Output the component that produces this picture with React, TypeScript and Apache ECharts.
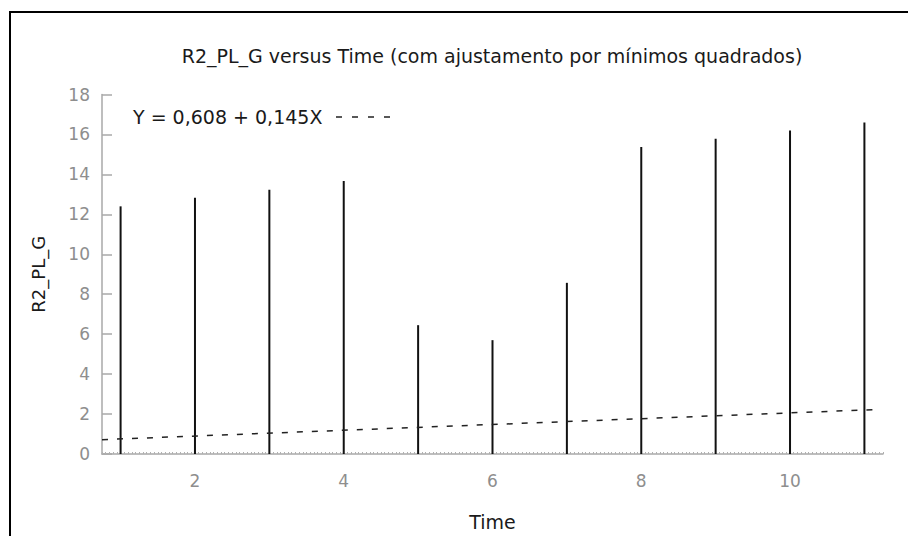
import React, { useEffect, useRef } from "react";
import * as echarts from "echarts";

const times = [1, 2, 3, 4, 5, 6, 7, 8, 9, 10, 11];
const values = [12.4, 12.83, 13.23, 13.67, 6.45, 5.7, 8.57, 15.37, 15.78, 16.2, 16.6];
const intercept = 0.608;
const slope = 0.145;
const fitRange = [0.75, 11.11];
const xLabelValues = [2, 4, 6, 8, 10];
const titleText = "R2_PL_G versus Time (com ajustamento por mínimos quadrados)";
const legendText = "Y = 0,608 + 0,145X";

const FONT = "DejaVu Sans";
const GRAY = "#8e8e8e";

export default function App() {
  const ref = useRef<HTMLDivElement>(null);
  useEffect(() => {
    if (!ref.current) return;
    const chart = echarts.init(ref.current, null, { renderer: "svg" });
    const fitData = fitRange.map((x) => [x, intercept + slope * x]);
    chart.setOption({
      animation: false,
      backgroundColor: "#fff",
      title: {
        text: titleText,
        left: 487,
        textAlign: "center",
        top: 41,
        textStyle: { fontFamily: FONT, fontSize: 19, fontWeight: "normal", color: "#1a1a1a" },
      },
      grid: { left: 102, right: 25, top: 94.5, bottom: 82, outerBoundsMode: "none", containLabel: false },
      xAxis: [
        {
          type: "value",
          min: 0.75,
          max: 11.25,
          name: "Time",
          nameLocation: "middle",
          nameGap: 58,
          nameTextStyle: { fontFamily: FONT, fontSize: 19, color: "#1a1a1a" },
          axisLine: { show: true, lineStyle: { color: "#a8a8a8", width: 1.5 } },
          axisTick: { show: false },
          axisLabel: {
            customValues: xLabelValues,
            fontFamily: FONT,
            fontSize: 17,
            color: GRAY,
            margin: 18,
          },
          splitLine: { show: false },
        },
        {
          type: "value",
          min: 0.75,
          max: 11.25,
          interval: 0.05,
          position: "bottom",
          axisLine: { show: false },
          axisTick: { show: true, inside: true, length: 2, lineStyle: { color: "#b0b0b0", width: 1 } },
          axisLabel: { show: false },
          splitLine: { show: false },
        },
      ],
      yAxis: {
        type: "value",
        min: 0,
        max: 18,
        interval: 2,
        name: "R2_PL_G",
        nameLocation: "middle",
        nameGap: 55,
        nameRotate: 90,
        nameTextStyle: { fontFamily: FONT, fontSize: 18, color: "#1a1a1a" },
        axisLine: { show: true, lineStyle: { color: "#a8a8a8", width: 1.5 } },
        axisTick: { show: true, inside: true, length: 10, lineStyle: { color: "#a8a8a8", width: 1.5 } },
        axisLabel: { fontFamily: FONT, fontSize: 17, color: GRAY, margin: 12 },
        splitLine: { show: false },
      },
      series: [
        {
          type: "bar",
          xAxisIndex: 0,
          barWidth: 2,
          itemStyle: { color: "#111" },
          data: times.map((t, i) => [t, values[i]]),
        },
        {
          type: "line",
          xAxisIndex: 0,
          data: fitData,
          showSymbol: false,
          symbol: "none",
          lineStyle: { color: "#222", width: 1.5, type: [6, 9] },
        },
      ],
      graphic: [
        {
          type: "rect",
          shape: { x: 10, y: 12, width: 1000, height: 1000 },
          style: { fill: "none", stroke: "#000", lineWidth: 2 },
          silent: true,
        },
        {
          type: "text",
          x: 133,
          y: 117,
          style: {
            text: legendText,
            font: `19px "${FONT}"`,
            fill: "#1a1a1a",
            textVerticalAlign: "middle",
            verticalAlign: "middle",
          },
        },
        {
          type: "line",
          shape: { x1: 336, y1: 117, x2: 394, y2: 117 },
          style: { stroke: "#222", lineWidth: 1.5, lineDash: [6, 10] },
        },
      ],
    });
    return () => chart.dispose();
  }, []);
  return (
    <div
      ref={ref}
      style={{ position: "absolute", left: 0, top: 0, width: 908, height: 536 }}
    />
  );
}
